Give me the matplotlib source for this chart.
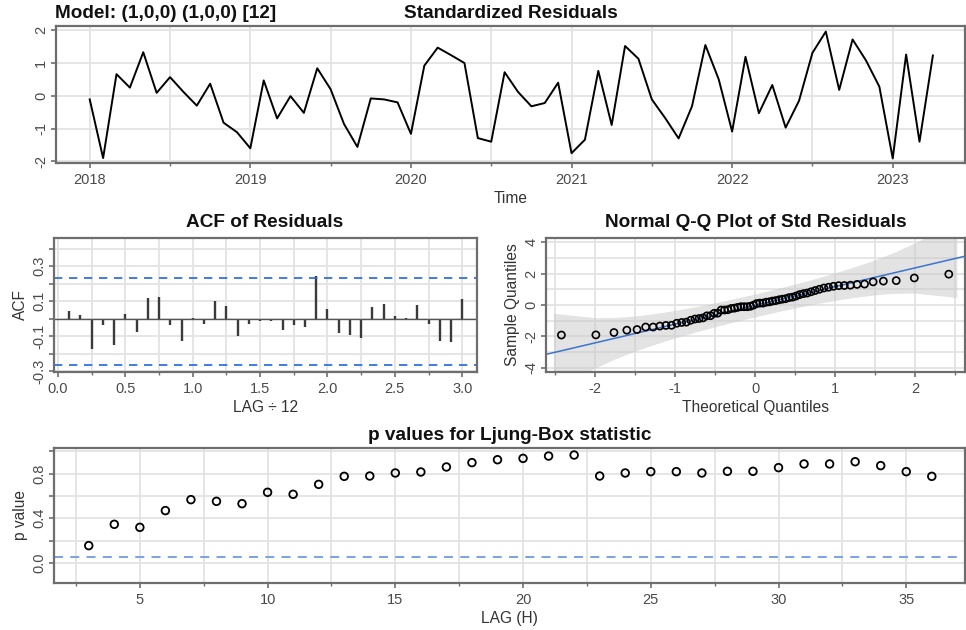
from statistics import NormalDist

import numpy as np
import matplotlib
matplotlib.use("Agg")
import matplotlib.pyplot as plt
from matplotlib.ticker import FixedLocator


plt.rcParams["font.family"] = ["Liberation Sans", "DejaVu Sans"]
plt.rcParams["axes.unicode_minus"] = False

MODEL_LABEL = "Model: (1,0,0) (1,0,0) [12]"

# standardized residuals, monthly from Jan 2018
RESID_START = 2018
RESID_FREQ = 12
residuals = [
    -0.11, -1.90, 0.66, 0.25, 1.33, 0.09, 0.57, 0.12, -0.30, 0.37, -0.82, -1.11,
    -1.60, 0.47, -0.69, -0.01, -0.52, 0.84, 0.20, -0.86, -1.56, -0.08, -0.11, -0.20,
    -1.16, 0.92, 1.47, 1.24, 1.00, -1.29, -1.40, 0.72, 0.12, -0.32, -0.22, 0.40,
    -1.75, -1.34, 0.76, -0.89, 1.52, 1.13, -0.11, -0.68, -1.30, -0.32, 1.55, 0.50,
    -1.09, 1.19, -0.53, 0.33, -0.97, -0.15, 1.31, 1.96, 0.18, 1.72, 1.08, 0.28,
    -1.91, 1.26, -1.40, 1.23,
]

# ACF of residuals, lags 1..36 (plotted as lag / 12)
acf_values = [
    0.043, 0.020, -0.172, -0.037, -0.148, 0.028, -0.075, 0.121, 0.127, -0.037, -0.125, 0.005,
    -0.030, 0.100, 0.073, -0.100, -0.033, -0.014, -0.014, -0.064, -0.035, -0.050, 0.243, 0.058,
    -0.081, -0.096, -0.108, 0.068, 0.085, 0.016, 0.005, 0.079, -0.030, -0.129, -0.132, 0.115,
]
acf_bounds = [0.234, -0.266]

# Ljung-Box p values
lb_lags = list(range(3, 37))
lb_pvalues = [
    0.155, 0.346, 0.319, 0.469, 0.567, 0.552, 0.531, 0.633, 0.615, 0.704,
    0.776, 0.779, 0.806, 0.815, 0.860, 0.899, 0.925, 0.937, 0.958, 0.967,
    0.779, 0.806, 0.818, 0.818, 0.806, 0.821, 0.821, 0.854, 0.887, 0.887,
    0.907, 0.872, 0.818, 0.776,
]
lb_cutoff = 0.05

W, H = 966, 630
SPINE = "#6e6e6e"
GRID = "#e3e3e3"
TICKLAB = "#4a4a4a"
LAB = "#333333"
TITLE_SIZE = 13.7
LABEL_SIZE = 11.2
TICK_SIZE = 10.5


def box(x0, y0, x1, y1):
    return [x0 / W, 1 - y1 / H, (x1 - x0) / W, (y1 - y0) / H]


def style_axes(ax):
    ax.set_facecolor("white")
    for s in ax.spines.values():
        s.set_color(SPINE)
        s.set_linewidth(1.6)
    ax.grid(True, which="major", color=GRID, linewidth=1.3)
    ax.set_axisbelow(True)
    ax.tick_params(which="both", colors=SPINE, labelcolor=TICKLAB, labelsize=TICK_SIZE, direction="out")
    ax.tick_params(which="major", length=3.5, width=1.2)
    ax.tick_params(which="minor", length=2, width=1.0)
    ax.tick_params(axis="y", pad=2)


def set_yticks(ax, ticks, labels):
    ax.set_yticks(ticks)
    ax.set_yticklabels(labels, rotation=90, va="center")


def panel_title(x, y, text):
    fig.text(x / W, 1 - y / H, text, fontsize=TITLE_SIZE, fontweight="bold",
             ha="center", va="center", color="#111111")


fig = plt.figure(figsize=(W / 100, H / 100), dpi=100)

# ---- standardized residuals ----
ax1 = fig.add_axes(box(56, 26, 965, 163))
t = RESID_START + np.arange(len(residuals)) / RESID_FREQ
ax1.plot(t, residuals, color="black", linewidth=1.4)
ax1.set_xlim(2017.79, 2023.45)
ax1.set_ylim(-2.05, 2.13)
ax1.set_xticks(range(2018, 2024))
ax1.xaxis.set_minor_locator(FixedLocator(np.arange(2018.5, 2023.6, 1.0)))
ax1.grid(True, which="minor", axis="x", color=GRID, linewidth=1.3)
set_yticks(ax1, [-2, -1, 0, 1, 2], ["-2", "-1", "0", "1", "2"])
style_axes(ax1)
ax1.set_xlabel("Time", fontsize=LABEL_SIZE, color=LAB, labelpad=3)

fig.text(55 / W, 1 - 14 / H, MODEL_LABEL, fontsize=TITLE_SIZE, fontweight="bold",
         ha="left", va="center", color="#111111")
panel_title(511, 13, "Standardized Residuals")

# ---- ACF ----
ax2 = fig.add_axes(box(54, 238, 477, 372))
lags = np.arange(1, len(acf_values) + 1) / 12
ax2.vlines(lags, 0, acf_values, color="#3a3a3a", linewidth=1.7)
ax2.axhline(0, color="#555555", linewidth=1.0)
for b in acf_bounds:
    ax2.axhline(b, color="#1f66e0", linestyle=(0, (5, 4)), linewidth=1.2)
ax2.set_xlim(-0.03, 3.11)
ax2.set_ylim(-0.305, 0.462)
ax2.set_xticks(np.arange(0, 3.01, 0.5))
ax2.set_xticklabels(["0.0", "0.5", "1.0", "1.5", "2.0", "2.5", "3.0"])
ax2.xaxis.set_minor_locator(FixedLocator(np.arange(0.25, 3.0, 0.5)))
ax2.grid(True, which="minor", axis="x", color=GRID, linewidth=1.3)
yt = np.round(np.arange(-0.3, 0.41, 0.1), 1)
set_yticks(ax2, yt, [f"{v:.1f}" if abs(round(v * 10)) % 2 == 1 else "" for v in yt])
style_axes(ax2)
ax2.set_xlabel("LAG \u00f7 12", fontsize=LABEL_SIZE, color=LAB, labelpad=3)
ax2.set_ylabel("ACF", fontsize=LABEL_SIZE, color=LAB, labelpad=3)
panel_title(265, 222, "ACF of Residuals")

# ---- normal Q-Q ----
ax3 = fig.add_axes(box(546, 238, 965, 372))
n = len(residuals)
nd = NormalDist()
pp = (np.arange(1, n + 1) - 0.5) / n
z = np.array([nd.inv_cdf(p) for p in pp])
ys = np.sort(residuals)
q1, q3 = np.percentile(ys, [25, 75])
slope = (q3 - q1) / (nd.inv_cdf(0.75) - nd.inv_cdf(0.25))
icpt = q1 - slope * nd.inv_cdf(0.25)
dens = np.array([nd.pdf(v) for v in z])
se = slope / dens * np.sqrt(pp * (1 - pp) / n)
fit = icpt + slope * z
zb = z.copy()
zb[0] -= 0.1
zb[-1] += 0.1
ax3.fill_between(zb, fit - 3.9 * se, fit + 3.9 * se, color="#c8c8c8", alpha=0.5, linewidth=0)
xl = np.array([-2.62, 2.62])
ax3.plot(xl, icpt + slope * xl, color="#3a74cc", linewidth=1.1)
ax3.scatter(z, ys, s=26, facecolors="none", edgecolors="black", linewidths=1.2, zorder=3)
ax3.set_xlim(-2.61, 2.62)
ax3.set_ylim(-4.26, 4.26)
ax3.set_xticks([-2, -1, 0, 1, 2])
ax3.xaxis.set_minor_locator(FixedLocator(np.arange(-2.5, 2.6, 1.0)))
ax3.grid(True, which="minor", axis="x", color=GRID, linewidth=1.3)
ax3.yaxis.set_minor_locator(FixedLocator([-3, -1, 1, 3]))
ax3.grid(True, which="minor", axis="y", color=GRID, linewidth=1.3)
set_yticks(ax3, [-4, -2, 0, 2, 4], ["-4", "-2", "0", "2", "4"])
style_axes(ax3)
ax3.tick_params(axis="y", which="minor", length=0)
ax3.set_xlabel("Theoretical Quantiles", fontsize=LABEL_SIZE, color=LAB, labelpad=3)
ax3.set_ylabel("Sample Quantiles", fontsize=LABEL_SIZE, color=LAB, labelpad=3)
panel_title(756, 222, "Normal Q-Q Plot of Std Residuals")

# ---- Ljung-Box p values ----
ax4 = fig.add_axes(box(54, 448, 965, 583))
ax4.axhline(lb_cutoff, color="#6f9be6", linestyle=(0, (5, 4)), linewidth=1.3)
ax4.scatter(lb_lags, lb_pvalues, s=30, facecolors="none", edgecolors="black",
            linewidths=1.3, zorder=3)
ax4.set_xlim(1.64, 37.3)
ax4.set_ylim(-0.18, 1.03)
ax4.set_xticks([5, 10, 15, 20, 25, 30, 35])
ax4.xaxis.set_minor_locator(FixedLocator(np.arange(2.5, 37.6, 5)))
ax4.grid(True, which="minor", axis="x", color=GRID, linewidth=1.3)
set_yticks(ax4, [0, 0.2, 0.4, 0.6, 0.8, 1.0], ["0.0", "", "0.4", "", "0.8", ""])
style_axes(ax4)
ax4.set_xlabel("LAG (H)", fontsize=LABEL_SIZE, color=LAB, labelpad=3)
ax4.set_ylabel("p value", fontsize=LABEL_SIZE, color=LAB, labelpad=3)
panel_title(510, 435, "p values for Ljung-Box statistic")

fig.savefig("out.png", dpi=100, facecolor="white")
